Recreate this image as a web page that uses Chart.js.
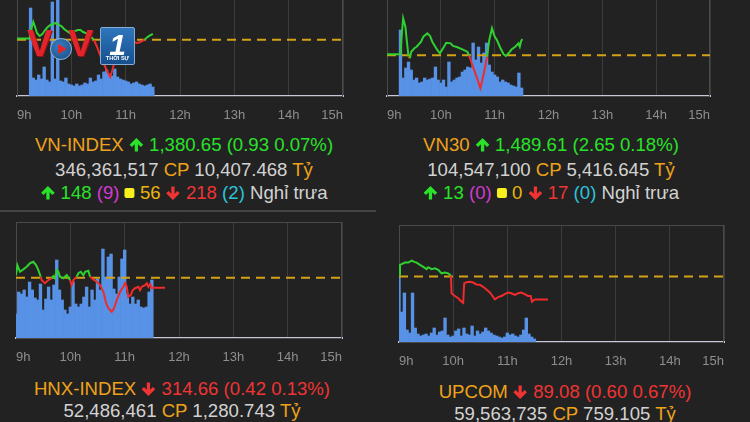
<!DOCTYPE html>
<html>
<head>
<meta charset="utf-8">
<script src="https://cdn.jsdelivr.net/npm/chart.js@4.4.0/dist/chart.umd.min.js"></script>
<style>
html, body { margin: 0; padding: 0; background: #222; }
body { width: 750px; height: 422px; position: relative; overflow: hidden; font-family: "Liberation Sans", Arial, sans-serif; }
canvas { position: absolute; }
.txt { position: absolute; transform: translateX(-50%); white-space: nowrap; font-size: 18.6px; line-height: 24px; color: #d2d2d2; }
.or { color: #eea21b; } .gr { color: #29e229; } .rd { color: #f03434; }
.mg { color: #d23ad2; } .cy { color: #2cc4dc; } .ye { color: #e9b40c; }
.arr { display: inline-block; width: 15px; height: 16px; vertical-align: -2px; }
.sq { display: inline-block; width: 10px; height: 10px; background: #f7ef1e; border-radius: 2px; vertical-align: 1px; }
.divider { position: absolute; left: 0; top: 210px; width: 376px; height: 2px; background: #444; }
.lv { position: absolute; top: 26px; font: bold 36px/36px "Liberation Sans", Arial, sans-serif; color: #e3252b; text-shadow: 1px 1px 0 #9c1116; transform: scaleX(1.05); transform-origin: left; }
.lo { position: absolute; left: 50px; top: 38px; width: 22px; height: 22px; box-sizing: border-box; border-radius: 50%; border: 1px solid #8fb5dc; background: radial-gradient(circle at 40% 35%, #3a7cc0, #184c82); }
.play { position: absolute; left: 7px; top: 4.5px; width: 0; height: 0; border-left: 9px solid #e3252b; border-top: 5.5px solid transparent; border-bottom: 5.5px solid transparent; }
.l1 { position: absolute; left: 100px; top: 27px; width: 35px; height: 38px; box-sizing: border-box; border: 1px solid #86acd6; border-radius: 2px; background: linear-gradient(#2f76bd, #164f8c); color: #fff; }
.one { position: absolute; left: 0; width: 100%; text-align: center; top: 2px; font: italic bold 30px/30px "Liberation Sans", Arial, sans-serif; }
.ts { position: absolute; left: 0; width: 100%; text-align: center; top: 27px; font: bold 5.5px/7px "Liberation Sans", Arial, sans-serif; }
</style>
</head>
<body>
<canvas id="vnindex" width="375" height="144" style="left:0;top:-20px"></canvas>
<canvas id="vn30" width="375" height="144" style="left:375px;top:-20px"></canvas>
<canvas id="hnx" width="375" height="144" style="left:0;top:222px"></canvas>
<canvas id="upcom" width="375" height="145" style="left:375px;top:225px"></canvas>

<div class="divider"></div>

<div class="txt" style="left:184px;top:133px"><span class="or">VN-INDEX</span> <svg class="arr gr" viewBox="0 0 16 16"><path d="M8 15V3M2 9l6-6 6 6" fill="none" stroke="currentColor" stroke-width="3.5"/></svg> <span class="gr">1,380.65 (0.93 0.07%)</span></div>
<div class="txt" style="left:184px;top:158px">346,361,517 <span class="or">CP</span> 10,407.468 <span class="or">Tỷ</span></div>
<div class="txt" style="left:184px;top:181px"><svg class="arr gr" viewBox="0 0 16 16"><path d="M8 15V3M2 9l6-6 6 6" fill="none" stroke="currentColor" stroke-width="3.5"/></svg> <span class="gr">148</span> <span class="mg">(9)</span> <i class="sq"></i> <span class="ye">56</span> <svg class="arr rd" viewBox="0 0 16 16"><path d="M8 1v12M2 7l6 6 6-6" fill="none" stroke="currentColor" stroke-width="3.5"/></svg> <span class="rd">218</span> <span class="cy">(2)</span> Nghỉ trưa</div>

<div class="txt" style="left:551px;top:133px"><span class="or">VN30</span> <svg class="arr gr" viewBox="0 0 16 16"><path d="M8 15V3M2 9l6-6 6 6" fill="none" stroke="currentColor" stroke-width="3.5"/></svg> <span class="gr">1,489.61 (2.65 0.18%)</span></div>
<div class="txt" style="left:551px;top:158px">104,547,100 <span class="or">CP</span> 5,416.645 <span class="or">Tỷ</span></div>
<div class="txt" style="left:551px;top:181px"><svg class="arr gr" viewBox="0 0 16 16"><path d="M8 15V3M2 9l6-6 6 6" fill="none" stroke="currentColor" stroke-width="3.5"/></svg> <span class="gr">13</span> <span class="mg">(0)</span> <i class="sq"></i> <span class="ye">0</span> <svg class="arr rd" viewBox="0 0 16 16"><path d="M8 1v12M2 7l6 6 6-6" fill="none" stroke="currentColor" stroke-width="3.5"/></svg> <span class="rd">17</span> <span class="cy">(0)</span> Nghỉ trưa</div>

<div class="txt" style="left:182px;top:377px"><span class="or">HNX-INDEX</span> <svg class="arr rd" viewBox="0 0 16 16"><path d="M8 1v12M2 7l6 6 6-6" fill="none" stroke="currentColor" stroke-width="3.5"/></svg> <span class="rd">314.66 (0.42 0.13%)</span></div>
<div class="txt" style="left:182px;top:399px">52,486,461 <span class="or">CP</span> 1,280.743 <span class="or">Tỷ</span></div>

<div class="txt" style="left:565px;top:380px"><span class="or">UPCOM</span> <svg class="arr rd" viewBox="0 0 16 16"><path d="M8 1v12M2 7l6 6 6-6" fill="none" stroke="currentColor" stroke-width="3.5"/></svg> <span class="rd">89.08 (0.60 0.67%)</span></div>
<div class="txt" style="left:565px;top:402px">59,563,735 <span class="or">CP</span> 759.105 <span class="or">Tỷ</span></div>

<div id="logo">
  <span class="lv" style="left:27px">V</span>
  <div class="lo"><div class="play"></div></div>
  <span class="lv" style="left:68px">V</span>
  <div class="l1"><span class="one">1</span><span class="ts">THỜI SỰ</span></div>
</div>

<script>
// x values are minutes after 9:00
const hourLabels = ['9h', '10h', '11h', '12h', '13h', '14h', '15h']

const binsFrom915 = [15, 18, 21, 24, 27, 30, 33, 36, 39, 42, 45, 48, 51, 54, 57, 60, 63, 66, 69, 72, 75, 78, 81, 84, 87, 90, 93, 96, 99, 102, 105, 108, 111, 114, 117, 120, 123, 126, 129, 132, 135, 138, 141, 144, 147, 150]
const binsFrom900 = [0, 3, 6, 9, 12, 15, 18, 21, 24, 27, 30, 33, 36, 39, 42, 45, 48, 51, 54, 57, 60, 63, 66, 69, 72, 75, 78, 81, 84, 87, 90, 93, 96, 99, 102, 105, 108, 111, 114, 117, 120, 123, 126, 129, 132, 135, 138, 141, 144, 147, 150]

// VN-INDEX
const vnRef = 1379.72
const vnTimes = [0, 14, 16, 18, 20, 22, 25, 28, 31, 34, 37, 40, 43, 46, 49, 52, 55, 58, 61, 64, 67, 70, 73, 76, 79, 82, 85, 88, 91, 94, 97, 100, 103, 106, 109, 112, 115, 117, 120, 123, 126, 129, 132, 135, 138, 141, 144, 147, 150]
const vnPrices = [1379.92, 1379.92, 1381.55, 1382.48, 1381.70, 1380.77, 1380.31, 1380.62, 1381.24, 1381.70, 1382.02, 1382.17, 1382.33, 1382.02, 1381.86, 1381.40, 1381.08, 1380.77, 1380.77, 1381.08, 1381.24, 1381.24, 1380.93, 1380.77, 1380.46, 1380.15, 1379.69, 1378.76, 1377.67, 1376.58, 1375.65, 1374.72, 1373.95, 1375.35, 1377.36, 1379.69, 1381.24, 1381.55, 1381.08, 1380.46, 1379.84, 1379.38, 1379.22, 1379.30, 1379.50, 1379.75, 1380.15, 1380.40, 1380.65]
const vnVolume = [88, 18, 16, 21, 17, 29, 16, 14, 94, 17, 120, 15, 14, 18, 12, 11, 10, 12, 10, 11, 13, 12, 18, 14, 15, 21, 17, 24, 26, 22, 20, 27, 19, 17, 16, 15, 14, 12, 13, 14, 12, 11, 10, 11, 12, 9]

// VN30
const vn30Ref = 1486.96
const vn30Times = [0, 15, 16, 18, 20.5, 22, 24, 25.5, 27, 30.5, 33, 38, 40.5, 45, 48, 50.5, 56, 59, 63.5, 66, 71, 73.5, 78.5, 84, 89.5, 91.5, 97, 100.5, 104, 108, 111.5, 114, 117, 120, 122.5, 126.5, 130, 132.5, 135.5, 139, 143, 146.5, 148, 149.5, 151]
const vn30Prices = [1487.10, 1487.10, 1489.50, 1493.06, 1491.67, 1489.47, 1486.71, 1486.44, 1487.53, 1488.10, 1488.36, 1489.19, 1490.02, 1490.58, 1490.13, 1489.19, 1487.82, 1487.27, 1488.36, 1489.02, 1488.92, 1488.48, 1488.26, 1487.93, 1487.53, 1486.90, 1484.51, 1483.13, 1481.48, 1483.96, 1486.71, 1489.47, 1491.41, 1490.02, 1489.47, 1488.10, 1487.10, 1486.82, 1487.27, 1487.93, 1488.36, 1488.92, 1488.36, 1489.30, 1489.61]
const vn30Volume = [66, 18, 28, 34, 26, 16, 18, 13, 14, 18, 16, 17, 18, 29, 16, 13, 16, 9, 34, 14, 16, 18, 19, 24, 26, 29, 28, 53, 36, 49, 33, 43, 53, 31, 24, 21, 19, 14, 16, 14, 13, 11, 10, 9, 23, 8]

// HNX-INDEX
const hnxRef = 315.08
const hnxTimes = [0, 1.5, 4.4, 8.1, 11.8, 15.5, 19.2, 22.1, 24.7, 27.3, 28.4, 32, 35.7, 39.4, 41.3, 43, 45, 46.8, 48.6, 52.3, 56, 59.7, 61.5, 63.4, 67, 68.9, 71.5, 74.4, 76.3, 79.9, 81.8, 85.4, 89.2, 92.8, 96.5, 99.5, 102, 105.7, 108.3, 111.2, 114.9, 118.6, 120.4, 122.3, 124.1, 126.7, 128.9, 131.5, 135.2, 137, 138.9, 142.5, 144.4, 146.2, 148.1, 149.9, 151.8, 164.6]
const hnxPrices = [315.19, 315.61, 315.33, 315.43, 315.54, 315.69, 315.75, 315.61, 315.40, 315.12, 314.98, 314.85, 314.98, 315.06, 315.15, 315.06, 315.40, 315.33, 315.12, 315.06, 315.19, 314.98, 314.77, 314.98, 315.12, 315.27, 315.33, 315.19, 315.33, 315.37, 315.12, 315.01, 314.91, 314.77, 314.49, 314.01, 313.80, 313.65, 313.80, 314.14, 314.49, 314.70, 314.85, 314.70, 314.28, 314.35, 314.56, 314.64, 314.70, 314.56, 314.70, 314.77, 314.85, 314.70, 314.82, 314.64, 314.66, 314.66]
const hnxVolume = [24, 46, 44, 48, 41, 56, 48, 40, 38, 54, 28, 39, 51, 38, 53, 78, 48, 38, 28, 24, 31, 56, 34, 31, 34, 41, 51, 31, 48, 38, 59, 48, 89, 61, 81, 84, 49, 44, 61, 79, 88, 44, 34, 41, 34, 38, 31, 30, 31, 46, 58]

// UPCOM
const upRef = 89.68
const upTimes = [0, 1.1, 2.9, 6.6, 10.3, 14, 16.9, 19.5, 23.2, 26.9, 30.6, 32.4, 36.1, 39.8, 43.5, 47.1, 50.8, 54.5, 57.5, 58.2, 61.9, 65.6, 69.3, 71.1, 72.2, 74.8, 78.5, 82.1, 85.8, 89.5, 93.2, 96.9, 100.6, 104.2, 106.1, 109.8, 113.5, 117.1, 120.8, 124.5, 128.2, 131.9, 135.6, 139.2, 142.9, 145.9, 147.3, 150.3, 165]
const upPrices = [89.72, 89.98, 90.00, 90.04, 90.04, 90.09, 90.06, 90.04, 89.98, 89.93, 89.87, 89.92, 89.87, 89.89, 89.85, 89.76, 89.78, 89.76, 89.70, 89.24, 89.17, 89.11, 89.02, 88.99, 89.50, 89.53, 89.54, 89.52, 89.47, 89.46, 89.41, 89.34, 89.26, 89.15, 89.08, 89.14, 89.17, 89.22, 89.26, 89.24, 89.20, 89.24, 89.26, 89.22, 89.17, 89.17, 89.02, 89.08, 89.08]
const upVolume = [66, 30, 49, 12, 9, 49, 14, 8, 6, 7, 8, 6, 9, 14, 7, 10, 11, 24, 7, 5, 6, 11, 13, 6, 14, 8, 7, 16, 6, 11, 8, 10, 14, 11, 9, 7, 6, 5, 4, 5, 9, 7, 8, 6, 5, 7, 12, 24, 8, 5, 3]

const green = '#2fd02f'
const red = '#ef2b2b'

// plot border
const frame = {
    id: 'frame',
    beforeDatasetsDraw(chart) {
        const { ctx, chartArea: a } = chart
        ctx.save()
        ctx.strokeStyle = '#4a4a4a'
        ctx.lineWidth = 1
        ctx.strokeRect(a.left + 0.5, a.top + 0.5, a.right - a.left - 1, a.bottom - a.top)
        ctx.restore()
    }
}

function panel(id, o) {
    return new Chart(document.getElementById(id), {
        type: 'line',
        data: {
            datasets: [
                {
                    data: o.times.map((t, i) => ({ x: t, y: o.prices[i] })),
                    yAxisID: 'y',
                    borderColor: green,
                    borderWidth: 2,
                    pointRadius: 0,
                    tension: 0,
                    order: 0,
                    segment: {
                        borderColor: c => (c.p0.parsed.y + c.p1.parsed.y) / 2 >= o.ref ? green : red
                    }
                },
                {
                    data: [{ x: 0, y: o.ref }, { x: 360, y: o.ref }],
                    yAxisID: 'y',
                    borderColor: '#d4a216',
                    borderWidth: 2,
                    borderDash: [9, 6],
                    pointRadius: 0,
                    order: 1
                },
                {
                    type: 'bar',
                    data: o.bins.map((t, i) => ({ x: t, y: o.volume[i] })),
                    yAxisID: 'yv',
                    backgroundColor: '#5892e6',
                    barPercentage: 1,
                    categoryPercentage: 1,
                    order: 2
                }
            ]
        },
        options: {
            responsive: false,
            animation: false,
            layout: { padding: { left: o.left, right: o.right, top: 0, bottom: 0 } },
            plugins: { legend: { display: false }, tooltip: { enabled: false } },
            scales: {
                x: {
                    type: 'linear', min: 0, max: 360, offset: false,
                    grid: { color: '#3c3c3c', drawTicks: false, offset: false },
                    border: { color: '#c8c8da', width: 2 },
                    ticks: {
                        stepSize: 60, align: 'inner', padding: 12, maxRotation: 0,
                        color: '#8e8e8e',
                        font: { size: 13, family: "'Liberation Sans', Arial, sans-serif" },
                        callback: (v, i) => hourLabels[i]
                    },
                    afterFit: s => { s.height = 28 }
                },
                y: { display: false, min: o.min, max: o.max },
                yv: { display: false, min: 0, max: o.volMax }
            }
        },
        plugins: [frame]
    })
}

panel('vnindex', { times: vnTimes, prices: vnPrices, ref: vnRef, bins: binsFrom915, volume: vnVolume, min: 1371, max: 1389, volMax: 116, left: 17, right: 32 })
panel('vn30', { times: vn30Times, prices: vn30Prices, ref: vn30Ref, bins: binsFrom915, volume: vn30Volume, min: 1480.2, max: 1499.4, volMax: 116, left: 9, right: 40 })
panel('hnx', { times: hnxTimes, prices: hnxPrices, ref: hnxRef, bins: binsFrom900, volume: hnxVolume, min: 312.55, max: 317.42, volMax: 116, left: 16, right: 33 })
panel('upcom', { times: upTimes, prices: upPrices, ref: upRef, bins: binsFrom900, volume: upVolume, min: 87.97, max: 91.02, volMax: 117, left: 24, right: 26 })
</script>
</body>
</html>
